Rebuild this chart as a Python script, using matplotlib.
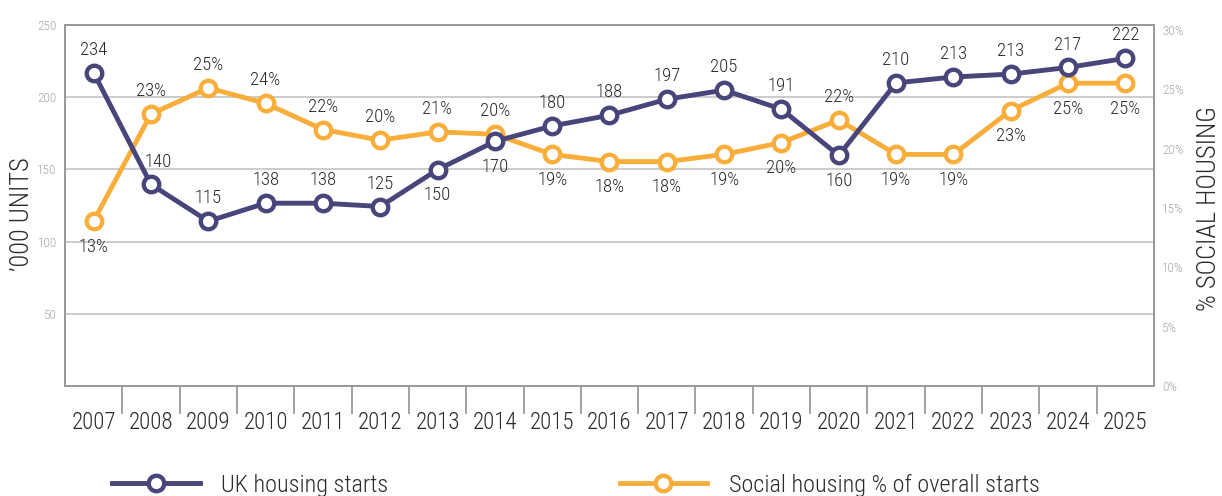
import matplotlib
matplotlib.use("Agg")
import matplotlib.pyplot as plt
from matplotlib import font_manager as fm
from matplotlib.ticker import FixedLocator, FuncFormatter

names = {f.name for f in fm.fontManager.ttflist}
CANDS = ['Roboto Condensed', 'Barlow Semi Condensed', 'Barlow Condensed', 'Fira Sans Condensed',
         'Open Sans Condensed', 'Liberation Sans Narrow', 'Archivo Narrow', 'PT Sans Narrow']
FAM = [n for n in CANDS if n in names] + ['DejaVu Sans']
plt.rcParams['font.family'] = FAM
plt.rcParams['font.weight'] = 'light'

years = ['2007', '2008', '2009', '2010', '2011', '2012', '2013', '2014', '2015', '2016',
         '2017', '2018', '2019', '2020', '2021', '2022', '2023', '2024', '2025']
# plotted positions (as drawn in the reference)
starts = [217, 139.6, 114.1, 126.6, 126.6, 124.3, 149.8, 169.4, 180.1, 187.5,
          198.6, 204.9, 191.7, 159.7, 209.9, 214.0, 216.0, 220.6, 226.9]
starts_labels = ['234', '140', '115', '138', '138', '125', '150', '170', '180', '188',
                 '197', '205', '191', '160', '210', '213', '213', '217', '222']
social = [13.9, 22.9, 25.1, 23.8, 21.6, 20.7, 21.4, 21.2, 19.5, 18.9,
          18.9, 19.5, 20.5, 22.4, 19.5, 19.5, 23.2, 25.5, 25.5]
social_labels = ['13%', '23%', '25%', '24%', '22%', '20%', '21%', '20%', '19%', '18%',
                 '18%', '19%', '20%', '22%', '19%', '19%', '23%', '25%', '25%']
# label placement: True = above point
starts_above = [True, True, True, True, True, True, False, False, True, True,
                True, True, True, False, True, True, True, True, True]
social_above = [False, True, True, True, True, True, True, True, False, False,
                False, False, False, True, False, False, False, False, False]

NAVY = '#47457a'
ORANGE = '#f9ae3b'
GRID = '#c8c8c8'
SPINE = '#9a9a9a'
TXT = '#2b2b2b'
TICKTXT = '#a8a8a8'

W, H = 1222, 496
fig = plt.figure(figsize=(W / 100, H / 100), dpi=100)
ax = fig.add_axes([65 / W, 1 - 386 / H, (1154 - 65) / W, (386 - 25) / H])
ax2 = ax.twinx()

x = list(range(len(years)))
ax.set_xlim(-0.5, len(years) - 0.5)
ax.set_ylim(0, 250)
ax2.set_ylim(0, 30.4)

ax.set_yticks([50, 100, 150, 200, 250])
ax.yaxis.grid(True, color=GRID, linewidth=1.3)
ax.set_axisbelow(True)
ax.tick_params(axis='y', length=0, labelsize=9.5, labelcolor=TICKTXT, pad=6)
ax.set_xticks(x)
ax.set_xticklabels(years)
ax.tick_params(axis='x', which='major', length=0, labelsize=16.5, labelcolor=TXT, pad=18)
ax.xaxis.set_minor_locator(FixedLocator([i + 0.5 for i in x[:-1]]))
ax.tick_params(axis='x', which='minor', length=20, width=1.3, color=SPINE, direction='out')

ax2.set_yticks([0, 5, 10, 15, 20, 25, 30])
ax2.yaxis.set_major_formatter(FuncFormatter(lambda v, p: f'{int(v)}%'))
ax2.tick_params(axis='y', length=0, labelsize=9.5, labelcolor=TICKTXT, pad=6)

for a in (ax, ax2):
    for s in a.spines.values():
        s.set_color(SPINE)
        s.set_linewidth(1.3)

fig.text(22 / W, 1 - 214 / H, "\u2019000 UNITS", rotation=90, fontsize=19, color=TXT,
         ha='center', va='center')
fig.text(1209 / W, 1 - 209 / H, "% SOCIAL HOUSING", rotation=90, fontsize=19, color=TXT,
         ha='center', va='center')

l2, = ax2.plot(x, social, color=ORANGE, lw=3.5, marker='o', ms=11.2, mfc='white',
               mec=ORANGE, mew=3.1, zorder=3, label='Social housing % of overall starts')
# draw navy on a top layer
ax3 = ax.twinx()
ax3.set_ylim(ax.get_ylim())
ax3.axis('off')
l1, = ax3.plot(x, starts, color=NAVY, lw=3.5, marker='o', ms=11.2, mfc='white',
               mec=NAVY, mew=3.1, zorder=3, label='UK housing starts')

for i, (v, lab, up) in enumerate(zip(starts, starts_labels, starts_above)):
    dx = 5 if i == 1 else 0
    ax3.annotate(lab, (i, v), xytext=(dx, 16.5 if up else -18.5), textcoords='offset points',
                 ha='center', va='center', fontsize=13.5, color=TXT)
for i, (v, lab, up) in enumerate(zip(social, social_labels, social_above)):
    ax2.annotate(lab, (i, v), xytext=(0, 16.5 if up else -18.5), textcoords='offset points',
                 ha='center', va='center', fontsize=13.5, color=TXT)

leg = fig.legend(handles=[l1, l2], loc='center left', bbox_to_anchor=(112 / W, 1 - 485 / H),
                 ncol=2, frameon=False, fontsize=17.5, handlelength=3.6, numpoints=1,
                 columnspacing=9.5, handletextpad=0.9, labelcolor=TXT, borderaxespad=0,
                 borderpad=0)

fig.savefig('out.png', dpi=100)
